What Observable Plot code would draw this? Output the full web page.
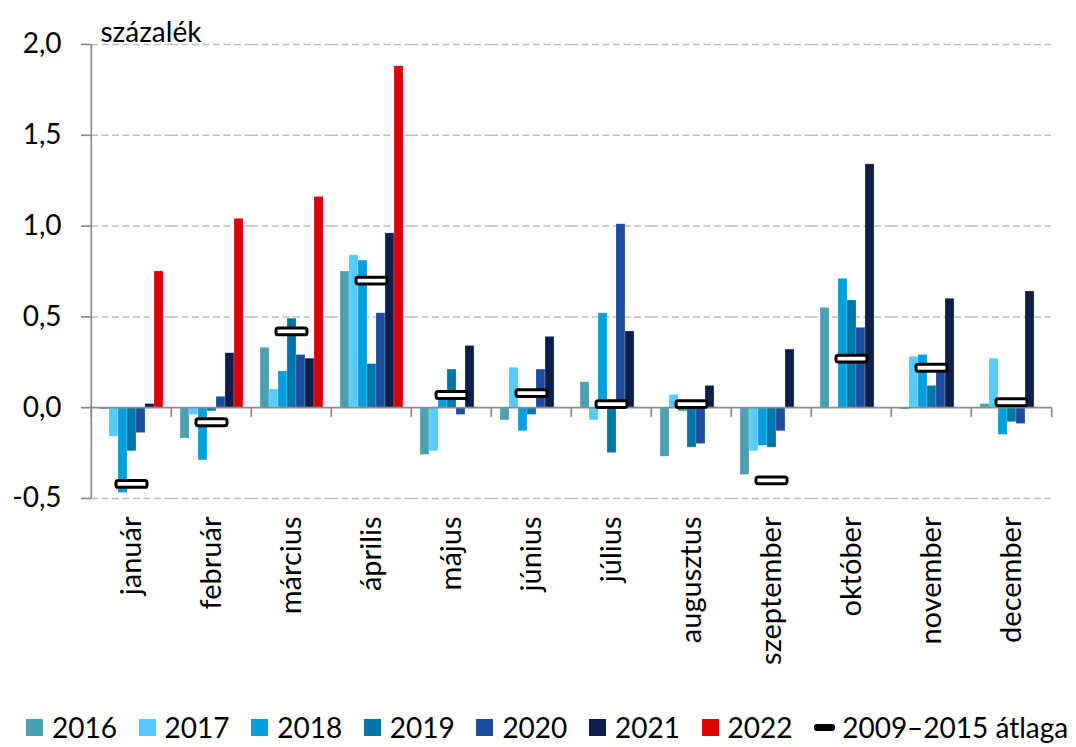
<!DOCTYPE html>
<html>
<head>
<meta charset="utf-8">
<script src="https://cdn.jsdelivr.net/npm/d3@7"></script>
<script src="https://cdn.jsdelivr.net/npm/@observablehq/plot@0.6"></script>
<style>
  html, body { margin: 0; padding: 0; background: #fff; }
  body { width: 1076px; height: 747px; position: relative; overflow: hidden; font-family: Lato, "Open Sans", sans-serif; }
  #chart { position: absolute; left: 0; top: 0; }
  #legend { position: absolute; left: 26px; top: 707px; height: 40px; display: flex; align-items: center; font-size: 28px; color: #000; white-space: nowrap; }
  .item { display: flex; align-items: center; width: 112.6px; }
  .item.last { width: auto; }
  .sw { width: 17px; height: 17px; margin-right: 9px; flex: none; }
  .mk { width: 21px; height: 7px; border-radius: 3px; background: #000; margin-right: 7px; flex: none; }
</style>
</head>
<body>
<div id="chart"></div>
<div id="legend"></div>
<script>
const months = ["január", "február", "március", "április", "május", "június", "július", "augusztus", "szeptember", "október", "november", "december"];
const years = ["2016", "2017", "2018", "2019", "2020", "2021", "2022"];
const colors = ["#4aa0b0", "#55ccff", "#00a0e0", "#0077a8", "#1e4ba0", "#0c1f4a", "#dd0000"];

const v2016 = [-0.01, -0.17, 0.33, 0.75, -0.26, -0.07, 0.14, -0.27, -0.37, 0.55, -0.01, 0.02];
const v2017 = [-0.16, -0.04, 0.10, 0.84, -0.24, 0.22, -0.07, 0.07, -0.24, 0.00, 0.28, 0.27];
const v2018 = [-0.47, -0.29, 0.20, 0.81, 0.05, -0.13, 0.52, -0.02, -0.21, 0.71, 0.29, -0.15];
const v2019 = [-0.24, -0.02, 0.49, 0.24, 0.21, -0.04, -0.25, -0.22, -0.22, 0.59, 0.12, -0.08];
const v2020 = [-0.14, 0.06, 0.29, 0.52, -0.04, 0.21, 1.01, -0.20, -0.13, 0.44, 0.21, -0.09];
const v2021 = [0.02, 0.30, 0.27, 0.96, 0.34, 0.39, 0.42, 0.12, 0.32, 1.34, 0.60, 0.64];
const v2022 = [0.75, 1.04, 1.16, 1.88];
const avg0915 = [-0.42, -0.08, 0.42, 0.70, 0.07, 0.08, 0.02, 0.02, -0.40, 0.27, 0.22, 0.03];

const yTicks = [-0.5, 0, 0.5, 1.0, 1.5, 2.0];
const yLabel = "százalék";
const avgLabel = "2009–2015 átlaga";

const series = [v2016, v2017, v2018, v2019, v2020, v2021, v2022];
const bars = [];
series.forEach((vals, si) => {
  vals.forEach((v, mi) => bars.push({month: months[mi], year: years[si], value: v}));
});
const avgData = avg0915.map((v, i) => ({month: months[i], value: v}));

const W = 1076, H = 698;
const mL = 88, mR = 23, mT = 44, mB = 200;
const bw = (W - mL - mR) / months.length;
const axisGrey = "#8c8c8c";

// rounded-rectangle symbol for the average marker
const roundRect = {
  draw(ctx) {
    const w = 15.5, h = 3.4, r = 2.2;
    ctx.moveTo(-w + r, -h);
    ctx.lineTo(w - r, -h);
    ctx.arcTo(w, -h, w, -h + r, r);
    ctx.lineTo(w, h - r);
    ctx.arcTo(w, h, w - r, h, r);
    ctx.lineTo(-w + r, h);
    ctx.arcTo(-w, h, -w, h - r, r);
    ctx.lineTo(-w, -h + r);
    ctx.arcTo(-w, -h, -w + r, -h, r);
    ctx.closePath();
  }
};

const chart = Plot.plot({
  width: W,
  height: H,
  marginLeft: mL,
  marginRight: mR,
  marginTop: mT,
  marginBottom: mB,
  style: {fontFamily: "Lato, 'Open Sans', sans-serif", fontSize: "28px", color: "#000", background: "#fff"},
  fx: {domain: months, paddingInner: 0, paddingOuter: 0, axis: null, label: null},
  x: {domain: years, paddingInner: 0, paddingOuter: 0.82, axis: null},
  y: {domain: [-0.5, 2.0], axis: null},
  color: {domain: years, range: colors},
  marks: [
    Plot.gridY(yTicks.filter(d => d !== 0), {stroke: "#bfbfbf", strokeOpacity: 1, strokeWidth: 1.5, strokeDasharray: "7,3.5"}),
    Plot.barY(bars, {fx: "month", x: "year", y: "value", fill: "year", stroke: "#ffffff", strokeOpacity: 0.35, strokeWidth: 0.6}),
    Plot.ruleY([0], {stroke: axisGrey, strokeWidth: 1.7}),
    // month separator ticks below the zero line
    Plot.ruleX(months, {fx: d => d, x: null, dx: -bw / 2, y1: 0, y2: 0, insetTop: 0, insetBottom: -10, stroke: axisGrey, strokeWidth: 1.7}),
    Plot.ruleX([months[months.length - 1]], {fx: d => d, x: null, dx: bw / 2, y1: 0, y2: 0, insetTop: 0, insetBottom: -10, stroke: axisGrey, strokeWidth: 1.7}),
    // y axis line
    Plot.ruleX([months[0]], {fx: d => d, x: null, dx: -bw / 2, stroke: axisGrey, strokeWidth: 1.7}),
    Plot.dot(avgData, {fx: "month", y: "value", symbol: roundRect, r: 5, stroke: "#000", strokeWidth: 3, fill: "#fff"}),
    Plot.axisY(yTicks, {anchor: "left", tickSize: 10, tickPadding: 20, tickFormat: d => d.toFixed(1).replace(".", ","), stroke: axisGrey, strokeWidth: 1.7, fill: "#000", label: null, fontSize: 28}),
    Plot.axisFx({anchor: "bottom", tickRotate: -90, tickSize: 0, tickPadding: 18, label: null, fontSize: 29, fill: "#000"}),
    Plot.text([yLabel], {fx: () => months[0], frameAnchor: "top-left", dx: 9, dy: -22, textAnchor: "start", fontSize: 28, fill: "#000"})
  ]
});
document.getElementById("chart").appendChild(chart);

// legend
const legend = document.getElementById("legend");
years.forEach((y, i) => {
  const it = document.createElement("div");
  it.className = "item";
  const sw = document.createElement("span");
  sw.className = "sw";
  sw.style.background = colors[i];
  const tx = document.createElement("span");
  tx.textContent = y;
  it.appendChild(sw); it.appendChild(tx);
  legend.appendChild(it);
});
const last = document.createElement("div");
last.className = "item last";
const mk = document.createElement("span");
mk.className = "mk";
const lt = document.createElement("span");
lt.textContent = avgLabel;
last.appendChild(mk); last.appendChild(lt);
legend.appendChild(last);
</script>
</body>
</html>
